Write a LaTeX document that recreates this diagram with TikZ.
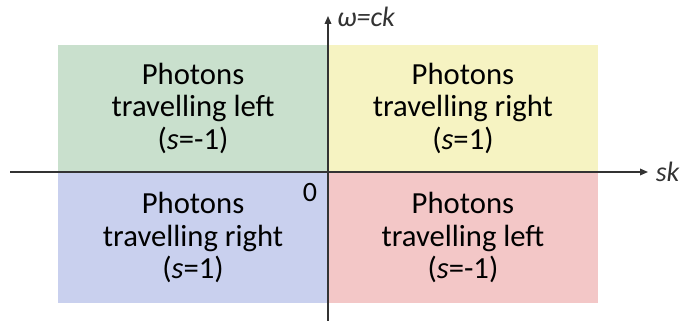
\documentclass[tikz,border=0pt]{standalone}
\usepackage{fontspec}
\setmainfont{Carlito}
\usetikzlibrary{positioning,arrows.meta}
\definecolor{qgreen}{RGB}{201,224,205}
\definecolor{qyellow}{RGB}{246,243,194}
\definecolor{qblue}{RGB}{201,208,238}
\definecolor{qred}{RGB}{243,199,199}
\begin{document}
\begin{tikzpicture}[x=0.75pt,y=-0.75pt,
	quad/.style={rectangle, inner sep=0pt, minimum width=202pt, align=center, font=\fontsize{23}{24.5}\selectfont},
	axis/.style={-{Triangle[length=6pt,width=5pt]}, line width=1pt, black!80}]
\useasboundingbox(0,0)rectangle(690,321);
\coordinate(o)at(328,172);
\node[quad, minimum height=95.25pt, anchor=south east, fill=qgreen](tl)at(o){Photons\\travelling left\\(\textit{s}=-1)};
\node[quad, minimum height=95.25pt, anchor=south west, fill=qyellow](tr)at(o){Photons\\travelling right\\(\textit{s}=1)};
\node[quad, minimum height=98.25pt, anchor=north east, fill=qblue](bl)at(o){Photons\\travelling right\\(\textit{s}=1)};
\node[quad, minimum height=98.25pt, anchor=north west, fill=qred](br)at(o){Photons\\travelling left\\(\textit{s}=-1)};
\draw(o)++(-318,0)coordinate(xl)
	(o)++(320,0)coordinate(xr)
	(o)++(0,149)coordinate(yb)
	(o)++(0,-156)coordinate(yt)
	;
\draw[axis](xl)to(xr)node[right, xshift=2pt, font=\fontsize{21}{24}\selectfont\itshape](sk){sk};
\draw[axis](yb)to(yt)node[right, xshift=3pt, yshift=-1pt, font=\fontsize{21}{24}\selectfont\itshape](w){ω=ck};
\node[font=\fontsize{21}{24}\selectfont](zero)at(310,193){0};
\end{tikzpicture}
\end{document}
